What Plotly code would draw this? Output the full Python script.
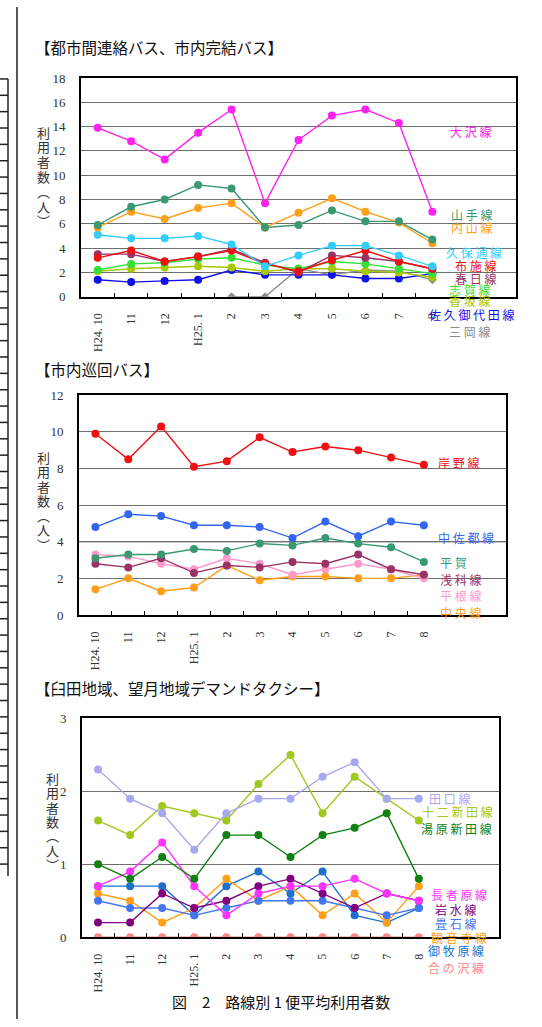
import plotly.graph_objects as go

W, H = 542, 1027

# ---------------- data ----------------
months = ["H24. 10", "11", "12", "H25. 1", "2", "3", "4", "5", "6", "7", "8"]

# chart 1: 都市間連絡バス、市内完結バス
c1_names = ["大沢線", "山手線", "内山線", "久保通線", "布施線", "春日線", "志賀線", "香坂線", "佐久御代田線", "三岡線"]
oosawa   = [13.9, 12.8, 11.3, 13.5, 15.4, 7.7, 12.9, 14.9, 15.4, 14.3, 7.0]
yamate   = [5.9, 7.4, 8.0, 9.2, 8.9, 5.7, 5.9, 7.1, 6.2, 6.2, 4.7]
uchiyama = [5.7, 7.0, 6.4, 7.3, 7.7, 5.7, 6.9, 8.1, 7.0, 6.1, 4.4]
kubodori = [5.1, 4.8, 4.8, 5.0, 4.3, 2.5, 3.4, 4.2, 4.2, 3.4, 2.5]
fuse     = [3.2, 3.8, 2.9, 3.3, 3.8, 2.7, 2.1, 3.0, 3.8, 2.9, 2.3]
kasuga   = [3.5, 3.5, 2.9, 3.3, 3.9, 2.8, 2.0, 3.4, 3.2, 2.9, 2.3]
shiga    = [2.2, 2.7, 2.8, 3.1, 3.2, 2.6, 2.3, 2.9, 2.7, 2.3, 1.9]
kousaka  = [2.1, 2.3, 2.4, 2.5, 2.4, 2.1, 2.3, 2.3, 2.1, 2.0, 1.6]
sakumiyota = [1.4, 1.2, 1.3, 1.4, 2.2, 1.8, 1.8, 1.8, 1.5, 1.5, 1.9]
mioka    = [None, None, None, None, 0, 0, 2.3, 1.8, 2.2, 2.1, 1.4]

# chart 2: 市内巡回バス
c2_names = ["岸野線", "中佐都線", "平賀", "浅科線", "平根線", "中央線"]
kishino  = [9.9, 8.5, 10.3, 8.1, 8.4, 9.7, 8.9, 9.2, 9.0, 8.6, 8.2]
nakasato = [4.8, 5.5, 5.4, 4.9, 4.9, 4.8, 4.2, 5.1, 4.3, 5.1, 4.9]
hiraga   = [3.1, 3.3, 3.3, 3.6, 3.5, 3.9, 3.8, 4.2, 3.9, 3.7, 2.9]
asashina = [2.8, 2.6, 3.1, 2.3, 2.7, 2.6, 2.9, 2.8, 3.3, 2.5, 2.2]
hirane   = [3.3, 3.2, 2.8, 2.5, 3.1, 2.8, 2.2, 2.5, 2.8, 2.5, 2.0]
chuo     = [1.4, 2.0, 1.3, 1.5, 2.7, 1.9, 2.1, 2.1, 2.0, 2.0, 2.2]

# chart 3: 臼田地域、望月地域デマンドタクシー
c3_names = ["田口線", "十二新田線", "湯原新田線", "長者原線", "岩水線", "畳石線", "観音寺線", "御牧原線", "合の沢線"]
taguchi   = [2.3, 1.9, 1.7, 1.2, 1.7, 1.9, 1.9, 2.2, 2.4, 1.9, 1.9]
juni      = [1.6, 1.4, 1.8, 1.7, 1.6, 2.1, 2.5, 1.7, 2.2, 1.9, 1.6]
yuhara    = [1.0, 0.8, 1.1, 0.8, 1.4, 1.4, 1.1, 1.4, 1.5, 1.7, 0.8]
chojabara = [0.7, 0.9, 1.3, 0.7, 0.3, 0.6, 0.7, 0.7, 0.8, 0.6, 0.5]
iwamizu   = [0.2, 0.2, 0.6, 0.4, 0.5, 0.7, 0.8, 0.6, 0.4, 0.6, 0.5]
tatamiishi = [0.5, 0.4, 0.4, 0.3, 0.4, 0.5, 0.5, 0.5, 0.4, 0.3, 0.4]
kannonji  = [0.6, 0.5, 0.2, 0.4, 0.8, 0.5, 0.7, 0.3, 0.6, 0.2, 0.7]
mimakihara = [0.7, 0.7, 0.7, 0.3, 0.7, 0.9, 0.6, 0.9, 0.3, 0.2, 0.4]
ainosawa  = [0, 0, 0, 0, 0, 0, 0, 0, 0, 0, 0]

# ---------------- styling ----------------
def px(x):
    return x / W

def py(y):
    return 1 - y / H

JP = "Noto Sans CJK JP"
SERIF = "Liberation Serif"
xs = list(range(len(months)))

fig = go.Figure()

def add_series(vals, color, xa, ya, symbol="circle", size=8):
    fig.add_trace(go.Scatter(
        x=xs, y=vals, mode="lines+markers", xaxis=xa, yaxis=ya,
        line=dict(color=color, width=1.4),
        marker=dict(color=color, size=size, symbol=symbol),
        connectgaps=False, hoverinfo="skip", showlegend=False))

c1 = [
    (mioka, "#8c8c8c"), (sakumiyota, "#1010e8"), (kousaka, "#a8c800"), (shiga, "#33e033"),
    (kasuga, "#993366"), (fuse, "#ee1111"), (kubodori, "#33ccff"),
    (uchiyama, "#ff9f1a"), (yamate, "#3a9970"), (oosawa, "#ff22ee"),
]
for vals, col in c1:
    if vals is mioka:
        add_series(vals, col, "x", "y", symbol="diamond", size=7)
    else:
        add_series(vals, col, "x", "y")

c2 = [
    (chuo, "#ff9f1a"), (hirane, "#ff99cc"), (asashina, "#993366"),
    (hiraga, "#3a9970"), (nakasato, "#3366ee"), (kishino, "#ee1111"),
]
for vals, col in c2:
    add_series(vals, col, "x2", "y2")

c3 = [
    (ainosawa, "#ff8585"), (mimakihara, "#1f70cc"), (kannonji, "#ff9f1a"), (tatamiishi, "#4477ee"),
    (iwamizu, "#800080"), (chojabara, "#ff33ff"), (yuhara, "#108010"),
    (juni, "#a0c820"), (taguchi, "#a8a8f0"),
]
for vals, col in c3:
    add_series(vals, col, "x3", "y3")

def xaxis(x0, x1, anchor):
    return dict(
        domain=[px(x0), px(x1)], range=[-0.5, 12.5], anchor=anchor,
        tickmode="array", tickvals=xs, ticktext=months, tickangle=-90,
        ticks="", showgrid=False, zeroline=False,
        showline=True, linecolor="black", linewidth=1.6, mirror=True,
        tickfont=dict(family=SERIF, size=12, color="#333333"),
        ticklabelstandoff=10,
        minor=dict(tickmode="array", tickvals=[i + 0.5 for i in range(10)],
                   ticks="inside", ticklen=4, tickcolor="black", tickwidth=1,
                   showgrid=False),
        fixedrange=True,
    )

def yaxis(y0, y1, rng, dt, anchor):
    return dict(
        domain=[py(y1), py(y0)], range=rng, dtick=dt, anchor=anchor,
        showgrid=True, gridcolor="#6e6e6e", gridwidth=1, zeroline=False,
        showline=True, linecolor="black", linewidth=1.6, mirror=True,
        ticks="", tickfont=dict(family=SERIF, size=13, color="#333333"),
        ticklabelstandoff=11, fixedrange=True,
    )

fig.update_layout(
    width=W, height=H, margin=dict(l=0, r=0, t=0, b=0),
    paper_bgcolor="white", plot_bgcolor="white", showlegend=False,
    xaxis=xaxis(81, 516, "y"), yaxis=yaxis(72, 294, [0, 18], 2, "x"),
    xaxis2=xaxis(79, 506, "y2"), yaxis2=yaxis(394, 617, [0, 12], 2, "x2"),
    xaxis3=xaxis(82, 499, "y3"), yaxis3=yaxis(722, 944, [0, 3], 1, "x3"),
)

# darker grid lines in middle chart
for v in [4, 8]:
    fig.add_shape(type="line", xref="x2 domain", yref="y2", x0=0, x1=1, y0=v, y1=v,
                  line=dict(color="#222222", width=1.2), layer="below")

annotations = []

def label(text, x, y, color, size=12, spaced=True):
    t = " ".join(list(text)) if spaced else text
    annotations.append(dict(text=t, x=px(x), y=py(y), xref="paper", yref="paper",
                            showarrow=False, xanchor="center", yanchor="middle",
                            font=dict(family=JP, size=size, color=color)))

# chart 1 labels
label("大沢線", 470, 126, "#ff22ee")
label("山手線", 471, 211, "#3a9970")
label("内山線", 471, 224, "#ff9f1a")
label("久保通線", 474, 249, "#33ccff")
label("布施線", 475, 262, "#ee1111")
label("春日線", 475, 276, "#993366")
label("志賀線", 469, 287, "#33e033")
label("香坂線", 469, 298, "#a8c800")
label("佐久御代田線", 471, 312, "#1010e8")
label("三岡線", 469, 329, "#8c8c8c")

# chart 2 labels
label("岸野線", 458, 462, "#ee1111")
label("中佐都線", 466, 538, "#3366ee")
label("平賀", 453, 564, "#3a9970")
label("浅科線", 460, 581, "#993366")
label("平根線", 460, 597, "#ff99cc")
label("中央線", 460, 614, "#ff9f1a")

# chart 3 labels
label("田口線", 449, 803, "#a8a8f0")
label("十二新田線", 457, 816, "#a0c820")
label("湯原新田線", 456, 834, "#108010")
label("長者原線", 459, 901, "#ff33ff")
label("岩水線", 455, 916, "#800080")
label("畳石線", 455, 930, "#4477ee")
label("観音寺線", 459, 944, "#ff9f1a")
label("御牧原線", 456, 957, "#1f70cc")
label("合の沢線", 456, 975, "#ff8585")

# titles
for text, y in [("【都市間連絡バス、市内完結バス】", 41),
                ("【市内巡回バス】", 367),
                ("【臼田地域、望月地域デマンドタクシー】", 691)]:
    annotations.append(dict(text=text, x=px(33), y=py(y), xref="paper", yref="paper",
                            showarrow=False, xanchor="left", yanchor="middle",
                            font=dict(family=JP, size=15.5, color="#111111")))

# vertical y-axis titles
ytitle = ["利", "用", "者", "数", "︵", "人", "︶"]
for (xc, y0, step) in [(43, 127, 15), (43, 457, 14.7), (52, 783, 14.5)]:
    for i, ch in enumerate(ytitle):
        annotations.append(dict(text=ch, x=px(xc), y=py(y0 + i * step), xref="paper", yref="paper",
                                showarrow=False, xanchor="center", yanchor="middle",
                                font=dict(family=JP, size=13, color="#333333")))

# caption
annotations.append(dict(text="図　2　路線別 1 便平均利用者数", x=px(281), y=py(1009),
                        xref="paper", yref="paper", showarrow=False,
                        xanchor="center", yanchor="middle",
                        font=dict(family=JP, size=15, color="#111111")))

fig.update_layout(annotations=annotations)

# page decorations: vertical rule and left table edge
shapes = [dict(type="line", xref="paper", yref="paper", x0=px(17), x1=px(17), y0=0, y1=1,
               line=dict(color="#222222", width=1.5))]
shapes.append(dict(type="line", xref="paper", yref="paper", x0=px(8), x1=px(8),
                   y0=py(73), y1=py(882), line=dict(color="#222222", width=1.5)))
yy = 73.0
while yy <= 882.5:
    shapes.append(dict(type="line", xref="paper", yref="paper", x0=0, x1=px(8),
                       y0=py(yy), y1=py(yy), line=dict(color="#222222", width=1.5)))
    yy += 16.6
for s in shapes:
    fig.add_shape(**s)

fig.write_html("out.html")
